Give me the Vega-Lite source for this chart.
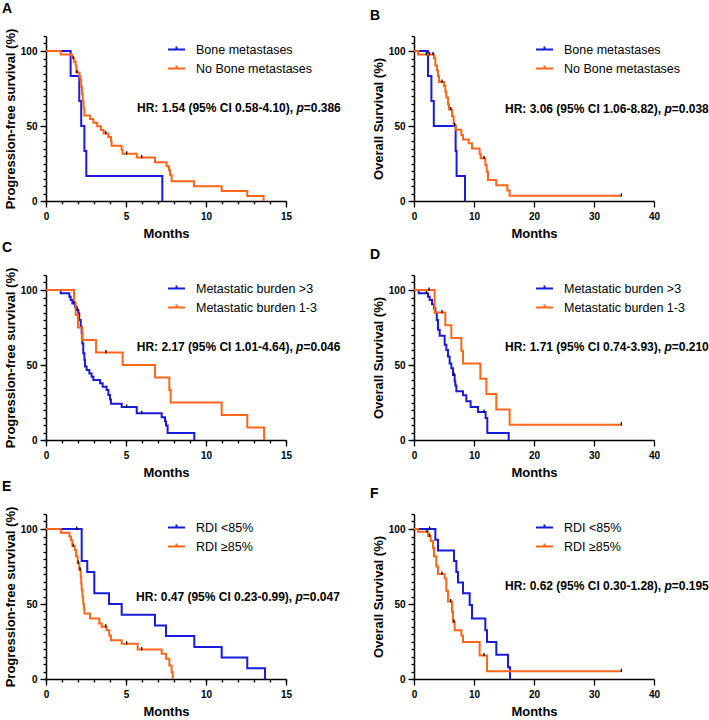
{
"$schema": "https://vega.github.io/schema/vega-lite/v6.json",
"background": "white",
"padding": {"left": 2, "top": 2, "right": 0, "bottom": 0},
"config": {
  "view": {"stroke": null},
  "font": "Liberation Sans",
  "axis": {"domainColor": "black", "domainWidth": 1.5, "tickColor": "black", "tickWidth": 1.3, "labelFont": "Liberation Sans", "labelFontSize": 10, "labelFontWeight": "bold", "labelColor": "black", "titleFont": "Liberation Sans", "titleFontSize": 13, "titleFontWeight": "bold", "titleColor": "black", "grid": false, "labelPadding": 3, "labelFlush": false},
  "axisX": {"titlePadding": 6, "labelPadding": 4},
  "axisY": {"titlePadding": 3},
  "title": {"anchor": "start", "frame": "group", "dx": -44, "fontSize": 14, "fontWeight": "bold", "font": "Liberation Sans", "color": "black", "offset": 12},
  "legend": {"labelFont": "Liberation Sans", "labelFontSize": 12.5, "labelColor": "black", "symbolType": "M-1,0H1M0,0V-0.35", "symbolSize": 289, "symbolStrokeWidth": 2, "labelOffset": 10, "rowPadding": 3}
},
"datasets": {
"hr": [
 {"p": "A", "main": "HR: 1.54 (95% CI 0.58-4.10),", "pv": "=0.386"},
 {"p": "B", "main": "HR: 3.06 (95% CI 1.06-8.82),", "pv": "=0.038"},
 {"p": "C", "main": "HR: 2.17 (95% CI 1.01-4.64),", "pv": "=0.046"},
 {"p": "D", "main": "HR: 1.71 (95% CI 0.74-3.93),", "pv": "=0.210"},
 {"p": "E", "main": "HR: 0.47 (95% CI 0.23-0.99),", "pv": "=0.047"},
 {"p": "F", "main": "HR: 0.62 (95% CI 0.30-1.28),", "pv": "=0.195"}
],
"km": [
 {"p":"A","g":"Bone metastases","t":0,"s":100},
 {"p":"A","g":"Bone metastases","t":1.54,"s":83.3},
 {"p":"A","g":"Bone metastases","t":2.08,"s":66.7},
 {"p":"A","g":"Bone metastases","t":2.2,"s":50},
 {"p":"A","g":"Bone metastases","t":2.4,"s":33.3},
 {"p":"A","g":"Bone metastases","t":2.52,"s":16.7},
 {"p":"A","g":"Bone metastases","t":7.27,"s":0},
 {"p":"A","g":"No Bone metastases","t":0,"s":100},
 {"p":"A","g":"No Bone metastases","t":0.92,"s":97.6},
 {"p":"A","g":"No Bone metastases","t":1.62,"s":95.2},
 {"p":"A","g":"No Bone metastases","t":1.71,"s":95.2,"c":1},
 {"p":"A","g":"No Bone metastases","t":1.75,"s":92.8},
 {"p":"A","g":"No Bone metastases","t":1.85,"s":90.4},
 {"p":"A","g":"No Bone metastases","t":1.9,"s":85.6},
 {"p":"A","g":"No Bone metastases","t":1.94,"s":85.6,"c":1},
 {"p":"A","g":"No Bone metastases","t":2.1,"s":83.2},
 {"p":"A","g":"No Bone metastases","t":2.15,"s":80.8},
 {"p":"A","g":"No Bone metastases","t":2.2,"s":76},
 {"p":"A","g":"No Bone metastases","t":2.25,"s":71.2},
 {"p":"A","g":"No Bone metastases","t":2.3,"s":66.4},
 {"p":"A","g":"No Bone metastases","t":2.35,"s":61.6},
 {"p":"A","g":"No Bone metastases","t":2.4,"s":57},
 {"p":"A","g":"No Bone metastases","t":2.75,"s":54.6},
 {"p":"A","g":"No Bone metastases","t":2.96,"s":52.2},
 {"p":"A","g":"No Bone metastases","t":3.2,"s":49.8},
 {"p":"A","g":"No Bone metastases","t":3.44,"s":47.4},
 {"p":"A","g":"No Bone metastases","t":3.6,"s":45},
 {"p":"A","g":"No Bone metastases","t":3.73,"s":45,"c":1},
 {"p":"A","g":"No Bone metastases","t":3.9,"s":42.6},
 {"p":"A","g":"No Bone metastases","t":4.06,"s":39.7},
 {"p":"A","g":"No Bone metastases","t":4.1,"s":36.8},
 {"p":"A","g":"No Bone metastases","t":4.73,"s":34.2},
 {"p":"A","g":"No Bone metastases","t":4.79,"s":31.5},
 {"p":"A","g":"No Bone metastases","t":5.04,"s":31.5,"c":1},
 {"p":"A","g":"No Bone metastases","t":5.67,"s":29},
 {"p":"A","g":"No Bone metastases","t":5.98,"s":29,"c":1},
 {"p":"A","g":"No Bone metastases","t":6.81,"s":25.8},
 {"p":"A","g":"No Bone metastases","t":7.54,"s":23.2},
 {"p":"A","g":"No Bone metastases","t":7.69,"s":20.5},
 {"p":"A","g":"No Bone metastases","t":7.75,"s":17.5},
 {"p":"A","g":"No Bone metastases","t":7.85,"s":13.2},
 {"p":"A","g":"No Bone metastases","t":9.25,"s":9.9},
 {"p":"A","g":"No Bone metastases","t":10.98,"s":6.6},
 {"p":"A","g":"No Bone metastases","t":12.58,"s":3.3},
 {"p":"A","g":"No Bone metastases","t":13.6,"s":0},

 {"p":"B","g":"Bone metastases","t":0,"s":100},
 {"p":"B","g":"Bone metastases","t":2.33,"s":83.3},
 {"p":"B","g":"Bone metastases","t":2.9,"s":66.7},
 {"p":"B","g":"Bone metastases","t":3.3,"s":50},
 {"p":"B","g":"Bone metastases","t":6.94,"s":33.3},
 {"p":"B","g":"Bone metastases","t":7.1,"s":16.7},
 {"p":"B","g":"Bone metastases","t":8.5,"s":0},
 {"p":"B","g":"No Bone metastases","t":0,"s":100},
 {"p":"B","g":"No Bone metastases","t":0.67,"s":97.6},
 {"p":"B","g":"No Bone metastases","t":2.06,"s":97.6,"c":1},
 {"p":"B","g":"No Bone metastases","t":2.6,"s":97.6,"c":1},
 {"p":"B","g":"No Bone metastases","t":3.17,"s":97.6,"c":1},
 {"p":"B","g":"No Bone metastases","t":3.33,"s":95.2},
 {"p":"B","g":"No Bone metastases","t":3.56,"s":90.4},
 {"p":"B","g":"No Bone metastases","t":3.83,"s":87.2},
 {"p":"B","g":"No Bone metastases","t":4.0,"s":83.4},
 {"p":"B","g":"No Bone metastases","t":4.17,"s":79.3},
 {"p":"B","g":"No Bone metastases","t":4.67,"s":79.3,"c":1},
 {"p":"B","g":"No Bone metastases","t":5.0,"s":76.7},
 {"p":"B","g":"No Bone metastases","t":5.22,"s":73},
 {"p":"B","g":"No Bone metastases","t":5.39,"s":69},
 {"p":"B","g":"No Bone metastases","t":5.67,"s":64.5},
 {"p":"B","g":"No Bone metastases","t":5.83,"s":61},
 {"p":"B","g":"No Bone metastases","t":6.11,"s":61,"c":1},
 {"p":"B","g":"No Bone metastases","t":6.33,"s":56.5},
 {"p":"B","g":"No Bone metastases","t":6.61,"s":50.5},
 {"p":"B","g":"No Bone metastases","t":6.78,"s":50.5,"c":1},
 {"p":"B","g":"No Bone metastases","t":6.94,"s":47.5},
 {"p":"B","g":"No Bone metastases","t":7.89,"s":44},
 {"p":"B","g":"No Bone metastases","t":8.17,"s":41},
 {"p":"B","g":"No Bone metastases","t":9.11,"s":38.5},
 {"p":"B","g":"No Bone metastases","t":9.67,"s":35},
 {"p":"B","g":"No Bone metastases","t":10.94,"s":31.5},
 {"p":"B","g":"No Bone metastases","t":11.11,"s":28.5},
 {"p":"B","g":"No Bone metastases","t":11.67,"s":28.5,"c":1},
 {"p":"B","g":"No Bone metastases","t":11.89,"s":24},
 {"p":"B","g":"No Bone metastases","t":12.11,"s":19.5},
 {"p":"B","g":"No Bone metastases","t":12.33,"s":14},
 {"p":"B","g":"No Bone metastases","t":13.72,"s":10.5},
 {"p":"B","g":"No Bone metastases","t":15.56,"s":7},
 {"p":"B","g":"No Bone metastases","t":15.94,"s":3.5},
 {"p":"B","g":"No Bone metastases","t":34.56,"s":3.5,"c":1},

 {"p":"C","g":"Metastatic burden >3","t":0,"s":100},
 {"p":"C","g":"Metastatic burden >3","t":0.92,"s":97.8},
 {"p":"C","g":"Metastatic burden >3","t":1.46,"s":95.5},
 {"p":"C","g":"Metastatic burden >3","t":1.54,"s":93.3},
 {"p":"C","g":"Metastatic burden >3","t":1.65,"s":91},
 {"p":"C","g":"Metastatic burden >3","t":1.75,"s":91,"c":1},
 {"p":"C","g":"Metastatic burden >3","t":1.81,"s":88.8},
 {"p":"C","g":"Metastatic burden >3","t":1.92,"s":86.6},
 {"p":"C","g":"Metastatic burden >3","t":1.96,"s":86.6,"c":1},
 {"p":"C","g":"Metastatic burden >3","t":2.02,"s":84.4},
 {"p":"C","g":"Metastatic burden >3","t":2.08,"s":80},
 {"p":"C","g":"Metastatic burden >3","t":2.17,"s":75.6},
 {"p":"C","g":"Metastatic burden >3","t":2.23,"s":71.2},
 {"p":"C","g":"Metastatic burden >3","t":2.27,"s":64.4},
 {"p":"C","g":"Metastatic burden >3","t":2.33,"s":57.8},
 {"p":"C","g":"Metastatic burden >3","t":2.4,"s":53.3},
 {"p":"C","g":"Metastatic burden >3","t":2.44,"s":49},
 {"p":"C","g":"Metastatic burden >3","t":2.54,"s":46.7},
 {"p":"C","g":"Metastatic burden >3","t":2.71,"s":44.4},
 {"p":"C","g":"Metastatic burden >3","t":2.85,"s":42.2},
 {"p":"C","g":"Metastatic burden >3","t":2.96,"s":40},
 {"p":"C","g":"Metastatic burden >3","t":3.38,"s":37.8},
 {"p":"C","g":"Metastatic burden >3","t":3.54,"s":35.5},
 {"p":"C","g":"Metastatic burden >3","t":3.79,"s":33.3},
 {"p":"C","g":"Metastatic burden >3","t":3.9,"s":30},
 {"p":"C","g":"Metastatic burden >3","t":4.0,"s":27},
 {"p":"C","g":"Metastatic burden >3","t":4.06,"s":24.2},
 {"p":"C","g":"Metastatic burden >3","t":4.73,"s":22},
 {"p":"C","g":"Metastatic burden >3","t":5.04,"s":22,"c":1},
 {"p":"C","g":"Metastatic burden >3","t":5.67,"s":17.8},
 {"p":"C","g":"Metastatic burden >3","t":5.98,"s":17.8,"c":1},
 {"p":"C","g":"Metastatic burden >3","t":7.23,"s":15.2},
 {"p":"C","g":"Metastatic burden >3","t":7.44,"s":12.5},
 {"p":"C","g":"Metastatic burden >3","t":7.5,"s":9.6},
 {"p":"C","g":"Metastatic burden >3","t":7.6,"s":4.7},
 {"p":"C","g":"Metastatic burden >3","t":9.27,"s":0},
 {"p":"C","g":"Metastatic burden 1-3","t":0,"s":100},
 {"p":"C","g":"Metastatic burden 1-3","t":1.75,"s":91.7},
 {"p":"C","g":"Metastatic burden 1-3","t":1.85,"s":83.3},
 {"p":"C","g":"Metastatic burden 1-3","t":2.0,"s":75},
 {"p":"C","g":"Metastatic burden 1-3","t":2.27,"s":66.7},
 {"p":"C","g":"Metastatic burden 1-3","t":3.13,"s":58.3},
 {"p":"C","g":"Metastatic burden 1-3","t":3.75,"s":58.3,"c":1},
 {"p":"C","g":"Metastatic burden 1-3","t":4.79,"s":50},
 {"p":"C","g":"Metastatic burden 1-3","t":6.81,"s":41.7},
 {"p":"C","g":"Metastatic burden 1-3","t":7.71,"s":33.3},
 {"p":"C","g":"Metastatic burden 1-3","t":7.79,"s":25},
 {"p":"C","g":"Metastatic burden 1-3","t":10.98,"s":16.7},
 {"p":"C","g":"Metastatic burden 1-3","t":12.58,"s":8.3},
 {"p":"C","g":"Metastatic burden 1-3","t":13.63,"s":0},

 {"p":"D","g":"Metastatic burden >3","t":0,"s":100},
 {"p":"D","g":"Metastatic burden >3","t":0.78,"s":97.8},
 {"p":"D","g":"Metastatic burden >3","t":2.06,"s":97.8,"c":1},
 {"p":"D","g":"Metastatic burden >3","t":2.33,"s":95.5},
 {"p":"D","g":"Metastatic burden >3","t":2.61,"s":93.3},
 {"p":"D","g":"Metastatic burden >3","t":3.0,"s":90.5},
 {"p":"D","g":"Metastatic burden >3","t":3.33,"s":88},
 {"p":"D","g":"Metastatic burden >3","t":3.56,"s":84.8},
 {"p":"D","g":"Metastatic burden >3","t":3.8,"s":80},
 {"p":"D","g":"Metastatic burden >3","t":4.0,"s":73.5},
 {"p":"D","g":"Metastatic burden >3","t":4.28,"s":69.5},
 {"p":"D","g":"Metastatic burden >3","t":5.11,"s":63.5},
 {"p":"D","g":"Metastatic burden >3","t":5.39,"s":60},
 {"p":"D","g":"Metastatic burden >3","t":5.67,"s":55.6},
 {"p":"D","g":"Metastatic burden >3","t":5.94,"s":51},
 {"p":"D","g":"Metastatic burden >3","t":6.22,"s":47.8},
 {"p":"D","g":"Metastatic burden >3","t":6.5,"s":43.3},
 {"p":"D","g":"Metastatic burden >3","t":6.67,"s":43.3,"c":1},
 {"p":"D","g":"Metastatic burden >3","t":6.78,"s":39},
 {"p":"D","g":"Metastatic burden >3","t":6.89,"s":36.3},
 {"p":"D","g":"Metastatic burden >3","t":7.06,"s":32.5},
 {"p":"D","g":"Metastatic burden >3","t":8.17,"s":29.8},
 {"p":"D","g":"Metastatic burden >3","t":8.72,"s":25.8},
 {"p":"D","g":"Metastatic burden >3","t":9.44,"s":22},
 {"p":"D","g":"Metastatic burden >3","t":10.67,"s":18.6},
 {"p":"D","g":"Metastatic burden >3","t":11.67,"s":18.6,"c":1},
 {"p":"D","g":"Metastatic burden >3","t":11.94,"s":14.6},
 {"p":"D","g":"Metastatic burden >3","t":12.22,"s":4.7},
 {"p":"D","g":"Metastatic burden >3","t":15.78,"s":0},
 {"p":"D","g":"Metastatic burden 1-3","t":0,"s":100},
 {"p":"D","g":"Metastatic burden 1-3","t":2.5,"s":100,"c":1},
 {"p":"D","g":"Metastatic burden 1-3","t":3.44,"s":85},
 {"p":"D","g":"Metastatic burden 1-3","t":4.67,"s":85,"c":1},
 {"p":"D","g":"Metastatic burden 1-3","t":5.22,"s":76.5},
 {"p":"D","g":"Metastatic burden 1-3","t":6.22,"s":68},
 {"p":"D","g":"Metastatic burden 1-3","t":7.89,"s":59.5},
 {"p":"D","g":"Metastatic burden 1-3","t":8.17,"s":51},
 {"p":"D","g":"Metastatic burden 1-3","t":11.06,"s":40.8},
 {"p":"D","g":"Metastatic burden 1-3","t":12.06,"s":30.6},
 {"p":"D","g":"Metastatic burden 1-3","t":13.72,"s":20.4},
 {"p":"D","g":"Metastatic burden 1-3","t":15.94,"s":10.2},
 {"p":"D","g":"Metastatic burden 1-3","t":34.56,"s":10.2,"c":1},

 {"p":"E","g":"RDI <85%","t":0,"s":100},
 {"p":"E","g":"RDI <85%","t":1.92,"s":100,"c":1},
 {"p":"E","g":"RDI <85%","t":2.23,"s":78.6},
 {"p":"E","g":"RDI <85%","t":2.58,"s":71.4},
 {"p":"E","g":"RDI <85%","t":3.02,"s":57.1},
 {"p":"E","g":"RDI <85%","t":3.94,"s":50},
 {"p":"E","g":"RDI <85%","t":4.73,"s":42.9},
 {"p":"E","g":"RDI <85%","t":6.81,"s":35.7},
 {"p":"E","g":"RDI <85%","t":7.5,"s":28.6},
 {"p":"E","g":"RDI <85%","t":9.27,"s":21.4},
 {"p":"E","g":"RDI <85%","t":10.98,"s":14.3},
 {"p":"E","g":"RDI <85%","t":12.58,"s":7.1},
 {"p":"E","g":"RDI <85%","t":13.69,"s":0},
 {"p":"E","g":"RDI ≥85%","t":0,"s":100},
 {"p":"E","g":"RDI ≥85%","t":0.92,"s":97.5},
 {"p":"E","g":"RDI ≥85%","t":1.46,"s":95},
 {"p":"E","g":"RDI ≥85%","t":1.56,"s":92.5},
 {"p":"E","g":"RDI ≥85%","t":1.65,"s":88.6},
 {"p":"E","g":"RDI ≥85%","t":1.71,"s":88.6,"c":1},
 {"p":"E","g":"RDI ≥85%","t":1.8,"s":86},
 {"p":"E","g":"RDI ≥85%","t":1.88,"s":81.8},
 {"p":"E","g":"RDI ≥85%","t":1.98,"s":77.3},
 {"p":"E","g":"RDI ≥85%","t":2.02,"s":77.3,"c":1},
 {"p":"E","g":"RDI ≥85%","t":2.08,"s":72.8},
 {"p":"E","g":"RDI ≥85%","t":2.13,"s":72.8,"c":1},
 {"p":"E","g":"RDI ≥85%","t":2.17,"s":68.2},
 {"p":"E","g":"RDI ≥85%","t":2.2,"s":63.6},
 {"p":"E","g":"RDI ≥85%","t":2.23,"s":59.1},
 {"p":"E","g":"RDI ≥85%","t":2.28,"s":54.5},
 {"p":"E","g":"RDI ≥85%","t":2.33,"s":50},
 {"p":"E","g":"RDI ≥85%","t":2.37,"s":47},
 {"p":"E","g":"RDI ≥85%","t":2.4,"s":43.7},
 {"p":"E","g":"RDI ≥85%","t":2.75,"s":40.4},
 {"p":"E","g":"RDI ≥85%","t":3.33,"s":37},
 {"p":"E","g":"RDI ≥85%","t":3.48,"s":34.8},
 {"p":"E","g":"RDI ≥85%","t":3.73,"s":34.8,"c":1},
 {"p":"E","g":"RDI ≥85%","t":3.79,"s":32.5},
 {"p":"E","g":"RDI ≥85%","t":3.95,"s":29},
 {"p":"E","g":"RDI ≥85%","t":4.06,"s":25.8},
 {"p":"E","g":"RDI ≥85%","t":4.73,"s":23.5},
 {"p":"E","g":"RDI ≥85%","t":5.04,"s":23.5,"c":1},
 {"p":"E","g":"RDI ≥85%","t":5.73,"s":19.7},
 {"p":"E","g":"RDI ≥85%","t":5.98,"s":19.7,"c":1},
 {"p":"E","g":"RDI ≥85%","t":7.23,"s":16.8},
 {"p":"E","g":"RDI ≥85%","t":7.5,"s":13.5},
 {"p":"E","g":"RDI ≥85%","t":7.71,"s":9},
 {"p":"E","g":"RDI ≥85%","t":7.85,"s":4.5},
 {"p":"E","g":"RDI ≥85%","t":7.92,"s":0},

 {"p":"F","g":"RDI <85%","t":0,"s":100},
 {"p":"F","g":"RDI <85%","t":2.61,"s":100,"c":1},
 {"p":"F","g":"RDI <85%","t":3.56,"s":92.9},
 {"p":"F","g":"RDI <85%","t":4.0,"s":85.7},
 {"p":"F","g":"RDI <85%","t":6.67,"s":78.6},
 {"p":"F","g":"RDI <85%","t":7.06,"s":71.4},
 {"p":"F","g":"RDI <85%","t":7.33,"s":64.3},
 {"p":"F","g":"RDI <85%","t":8.17,"s":57.1},
 {"p":"F","g":"RDI <85%","t":9.28,"s":49.3},
 {"p":"F","g":"RDI <85%","t":9.67,"s":40.4},
 {"p":"F","g":"RDI <85%","t":11.89,"s":32.5},
 {"p":"F","g":"RDI <85%","t":12.17,"s":24.7},
 {"p":"F","g":"RDI <85%","t":13.72,"s":16.1},
 {"p":"F","g":"RDI <85%","t":15.67,"s":7.8},
 {"p":"F","g":"RDI <85%","t":16.0,"s":0},
 {"p":"F","g":"RDI ≥85%","t":0,"s":100},
 {"p":"F","g":"RDI ≥85%","t":0.67,"s":98.2},
 {"p":"F","g":"RDI ≥85%","t":2.17,"s":98.2,"c":1},
 {"p":"F","g":"RDI ≥85%","t":2.33,"s":95.3},
 {"p":"F","g":"RDI ≥85%","t":2.61,"s":95.3,"c":1},
 {"p":"F","g":"RDI ≥85%","t":2.78,"s":92},
 {"p":"F","g":"RDI ≥85%","t":3.17,"s":87.4},
 {"p":"F","g":"RDI ≥85%","t":3.33,"s":81.8},
 {"p":"F","g":"RDI ≥85%","t":3.72,"s":75},
 {"p":"F","g":"RDI ≥85%","t":4.0,"s":70},
 {"p":"F","g":"RDI ≥85%","t":4.67,"s":70,"c":1},
 {"p":"F","g":"RDI ≥85%","t":5.11,"s":67},
 {"p":"F","g":"RDI ≥85%","t":5.39,"s":58.7},
 {"p":"F","g":"RDI ≥85%","t":5.67,"s":51.6},
 {"p":"F","g":"RDI ≥85%","t":6.11,"s":51.6,"c":1},
 {"p":"F","g":"RDI ≥85%","t":6.33,"s":44.8},
 {"p":"F","g":"RDI ≥85%","t":6.5,"s":38},
 {"p":"F","g":"RDI ≥85%","t":6.67,"s":38,"c":1},
 {"p":"F","g":"RDI ≥85%","t":6.78,"s":32.5},
 {"p":"F","g":"RDI ≥85%","t":7.89,"s":29},
 {"p":"F","g":"RDI ≥85%","t":8.17,"s":24.7},
 {"p":"F","g":"RDI ≥85%","t":10.94,"s":15.7},
 {"p":"F","g":"RDI ≥85%","t":11.67,"s":15.7,"c":1},
 {"p":"F","g":"RDI ≥85%","t":12.17,"s":5.2},
 {"p":"F","g":"RDI ≥85%","t":34.56,"s":5.2,"c":1}
]
},
"columns": 2,
"spacing": {"row": 74, "column": 128},
"bounds": "flush",
"resolve": {"scale": {"color": "independent"}, "legend": {"color": "independent"}},
"concat": [
 {"width": 240, "height": 165, "title": {"text": "A"},
  "resolve": {"axis": {"x": "independent", "y": "independent"}},
  "layer": [
   {"data": {"name": "km"}, "transform": [{"filter": "datum.p === 'A'"}],
    "mark": {"type": "line", "interpolate": "step-after", "strokeWidth": 2},
    "encoding": {
     "x": {"field": "t", "type": "quantitative", "scale": {"domain": [0, 15], "nice": false, "zero": false}, "axis": {"title": "Months", "values": [0,5,10,15], "tickSize": 6}},
     "y": {"field": "s", "type": "quantitative", "scale": {"domain": [0, 110], "nice": false}, "axis": {"title": "Progression-free survival (%)", "values": [0,50,100], "tickSize": 6}},
     "color": {"field": "g", "type": "nominal", "scale": {"domain": ["Bone metastases", "No Bone metastases"], "range": ["#1a1adb", "#ff6619"]}, "legend": {"title": null, "orient": "none", "legendX": 121, "legendY": 4}},
     "order": {"field": "t"}}},
   {"data": {"name": "km"}, "transform": [{"filter": "datum.p === 'A' && datum.c === 1"}],
    "mark": {"type": "point", "shape": "M0,0.3V-1", "size": 25, "stroke": "black", "strokeWidth": 1.3, "filled": false, "opacity": 1},
    "encoding": {
     "x": {"field": "t", "type": "quantitative", "axis": {"orient": "bottom", "title": null, "labels": false, "domain": false, "tickSize": 3, "values": [0,1,2,3,4,5,6,7,8,9,10,11,12,13,14,15]}},
     "y": {"field": "s", "type": "quantitative", "axis": {"orient": "left", "title": null, "labels": false, "domain": false, "tickSize": 3, "values": [0,5,10,15,20,25,30,35,40,45,50,55,60,65,70,75,80,85,90,95,100,105,110]}}}},
   {"data": {"name": "hr"}, "transform": [{"filter": "datum.p === 'A'"}],
    "mark": {"type": "text", "align": "left", "baseline": "middle", "fontWeight": "bold", "fontSize": 12, "color": "black"},
    "encoding": {"x": {"datum": 5.69, "axis": null}, "y": {"datum": 62, "axis": null}, "text": {"field": "main"}}},
   {"data": {"name": "hr"}, "transform": [{"filter": "datum.p === 'A'"}],
    "mark": {"type": "text", "align": "left", "baseline": "middle", "fontWeight": "bold", "fontStyle": "italic", "fontSize": 12, "color": "black", "text": "p", "dx": 159.4},
    "encoding": {"x": {"datum": 5.69, "axis": null}, "y": {"datum": 62, "axis": null}}},
   {"data": {"name": "hr"}, "transform": [{"filter": "datum.p === 'A'"}],
    "mark": {"type": "text", "align": "left", "baseline": "middle", "fontWeight": "bold", "fontSize": 12, "color": "black", "dx": 166.7},
    "encoding": {"x": {"datum": 5.69, "axis": null}, "y": {"datum": 62, "axis": null}, "text": {"field": "pv"}}}
  ]},
 {"width": 240, "height": 165, "title": {"text": "B"},
  "resolve": {"axis": {"x": "independent", "y": "independent"}},
  "layer": [
   {"data": {"name": "km"}, "transform": [{"filter": "datum.p === 'B'"}],
    "mark": {"type": "line", "interpolate": "step-after", "strokeWidth": 2},
    "encoding": {
     "x": {"field": "t", "type": "quantitative", "scale": {"domain": [0, 40], "nice": false, "zero": false}, "axis": {"title": "Months", "values": [0,10,20,30,40], "tickSize": 6}},
     "y": {"field": "s", "type": "quantitative", "scale": {"domain": [0, 110], "nice": false}, "axis": {"title": "Overall Survival (%)", "values": [0,50,100], "tickSize": 6}},
     "color": {"field": "g", "type": "nominal", "scale": {"domain": ["Bone metastases", "No Bone metastases"], "range": ["#1a1adb", "#ff6619"]}, "legend": {"title": null, "orient": "none", "legendX": 121, "legendY": 4}},
     "order": {"field": "t"}}},
   {"data": {"name": "km"}, "transform": [{"filter": "datum.p === 'B' && datum.c === 1"}],
    "mark": {"type": "point", "shape": "M0,0.3V-1", "size": 25, "stroke": "black", "strokeWidth": 1.3, "filled": false, "opacity": 1},
    "encoding": {
     "x": {"field": "t", "type": "quantitative", "axis": null},
     "y": {"field": "s", "type": "quantitative", "axis": {"orient": "left", "title": null, "labels": false, "domain": false, "tickSize": 3, "values": [0,5,10,15,20,25,30,35,40,45,50,55,60,65,70,75,80,85,90,95,100,105,110]}}}},
   {"data": {"name": "hr"}, "transform": [{"filter": "datum.p === 'B'"}],
    "mark": {"type": "text", "align": "left", "baseline": "middle", "fontWeight": "bold", "fontSize": 12, "color": "black"},
    "encoding": {"x": {"datum": 15.17, "axis": null}, "y": {"datum": 61.5, "axis": null}, "text": {"field": "main"}}},
   {"data": {"name": "hr"}, "transform": [{"filter": "datum.p === 'B'"}],
    "mark": {"type": "text", "align": "left", "baseline": "middle", "fontWeight": "bold", "fontStyle": "italic", "fontSize": 12, "color": "black", "text": "p", "dx": 159.4},
    "encoding": {"x": {"datum": 15.17, "axis": null}, "y": {"datum": 61.5, "axis": null}}},
   {"data": {"name": "hr"}, "transform": [{"filter": "datum.p === 'B'"}],
    "mark": {"type": "text", "align": "left", "baseline": "middle", "fontWeight": "bold", "fontSize": 12, "color": "black", "dx": 166.7},
    "encoding": {"x": {"datum": 15.17, "axis": null}, "y": {"datum": 61.5, "axis": null}, "text": {"field": "pv"}}}
  ]},
 {"width": 240, "height": 165, "title": {"text": "C"},
  "resolve": {"axis": {"x": "independent", "y": "independent"}},
  "layer": [
   {"data": {"name": "km"}, "transform": [{"filter": "datum.p === 'C'"}],
    "mark": {"type": "line", "interpolate": "step-after", "strokeWidth": 2},
    "encoding": {
     "x": {"field": "t", "type": "quantitative", "scale": {"domain": [0, 15], "nice": false, "zero": false}, "axis": {"title": "Months", "values": [0,5,10,15], "tickSize": 6}},
     "y": {"field": "s", "type": "quantitative", "scale": {"domain": [0, 110], "nice": false}, "axis": {"title": "Progression-free survival (%)", "values": [0,50,100], "tickSize": 6}},
     "color": {"field": "g", "type": "nominal", "scale": {"domain": ["Metastatic burden >3", "Metastatic burden 1-3"], "range": ["#1a1adb", "#ff6619"]}, "legend": {"title": null, "orient": "none", "legendX": 121, "legendY": 4}},
     "order": {"field": "t"}}},
   {"data": {"name": "km"}, "transform": [{"filter": "datum.p === 'C' && datum.c === 1"}],
    "mark": {"type": "point", "shape": "M0,0.3V-1", "size": 25, "stroke": "black", "strokeWidth": 1.3, "filled": false, "opacity": 1},
    "encoding": {
     "x": {"field": "t", "type": "quantitative", "axis": {"orient": "bottom", "title": null, "labels": false, "domain": false, "tickSize": 3, "values": [0,1,2,3,4,5,6,7,8,9,10,11,12,13,14,15]}},
     "y": {"field": "s", "type": "quantitative", "axis": {"orient": "left", "title": null, "labels": false, "domain": false, "tickSize": 3, "values": [0,5,10,15,20,25,30,35,40,45,50,55,60,65,70,75,80,85,90,95,100,105,110]}}}},
   {"data": {"name": "hr"}, "transform": [{"filter": "datum.p === 'C'"}],
    "mark": {"type": "text", "align": "left", "baseline": "middle", "fontWeight": "bold", "fontSize": 12, "color": "black"},
    "encoding": {"x": {"datum": 5.67, "axis": null}, "y": {"datum": 61.8, "axis": null}, "text": {"field": "main"}}},
   {"data": {"name": "hr"}, "transform": [{"filter": "datum.p === 'C'"}],
    "mark": {"type": "text", "align": "left", "baseline": "middle", "fontWeight": "bold", "fontStyle": "italic", "fontSize": 12, "color": "black", "text": "p", "dx": 159.4},
    "encoding": {"x": {"datum": 5.67, "axis": null}, "y": {"datum": 61.8, "axis": null}}},
   {"data": {"name": "hr"}, "transform": [{"filter": "datum.p === 'C'"}],
    "mark": {"type": "text", "align": "left", "baseline": "middle", "fontWeight": "bold", "fontSize": 12, "color": "black", "dx": 166.7},
    "encoding": {"x": {"datum": 5.67, "axis": null}, "y": {"datum": 61.8, "axis": null}, "text": {"field": "pv"}}}
  ]},
 {"width": 240, "height": 165, "title": {"text": "D"},
  "resolve": {"axis": {"x": "independent", "y": "independent"}},
  "layer": [
   {"data": {"name": "km"}, "transform": [{"filter": "datum.p === 'D'"}],
    "mark": {"type": "line", "interpolate": "step-after", "strokeWidth": 2},
    "encoding": {
     "x": {"field": "t", "type": "quantitative", "scale": {"domain": [0, 40], "nice": false, "zero": false}, "axis": {"title": "Months", "values": [0,10,20,30,40], "tickSize": 6}},
     "y": {"field": "s", "type": "quantitative", "scale": {"domain": [0, 110], "nice": false}, "axis": {"title": "Overall Survival (%)", "values": [0,50,100], "tickSize": 6}},
     "color": {"field": "g", "type": "nominal", "scale": {"domain": ["Metastatic burden >3", "Metastatic burden 1-3"], "range": ["#1a1adb", "#ff6619"]}, "legend": {"title": null, "orient": "none", "legendX": 121, "legendY": 4}},
     "order": {"field": "t"}}},
   {"data": {"name": "km"}, "transform": [{"filter": "datum.p === 'D' && datum.c === 1"}],
    "mark": {"type": "point", "shape": "M0,0.3V-1", "size": 25, "stroke": "black", "strokeWidth": 1.3, "filled": false, "opacity": 1},
    "encoding": {
     "x": {"field": "t", "type": "quantitative", "axis": null},
     "y": {"field": "s", "type": "quantitative", "axis": {"orient": "left", "title": null, "labels": false, "domain": false, "tickSize": 3, "values": [0,5,10,15,20,25,30,35,40,45,50,55,60,65,70,75,80,85,90,95,100,105,110]}}}},
   {"data": {"name": "hr"}, "transform": [{"filter": "datum.p === 'D'"}],
    "mark": {"type": "text", "align": "left", "baseline": "middle", "fontWeight": "bold", "fontSize": 12, "color": "black"},
    "encoding": {"x": {"datum": 15.17, "axis": null}, "y": {"datum": 61.7, "axis": null}, "text": {"field": "main"}}},
   {"data": {"name": "hr"}, "transform": [{"filter": "datum.p === 'D'"}],
    "mark": {"type": "text", "align": "left", "baseline": "middle", "fontWeight": "bold", "fontStyle": "italic", "fontSize": 12, "color": "black", "text": "p", "dx": 159.4},
    "encoding": {"x": {"datum": 15.17, "axis": null}, "y": {"datum": 61.7, "axis": null}}},
   {"data": {"name": "hr"}, "transform": [{"filter": "datum.p === 'D'"}],
    "mark": {"type": "text", "align": "left", "baseline": "middle", "fontWeight": "bold", "fontSize": 12, "color": "black", "dx": 166.7},
    "encoding": {"x": {"datum": 15.17, "axis": null}, "y": {"datum": 61.7, "axis": null}, "text": {"field": "pv"}}}
  ]},
 {"width": 240, "height": 165, "title": {"text": "E"},
  "resolve": {"axis": {"x": "independent", "y": "independent"}},
  "layer": [
   {"data": {"name": "km"}, "transform": [{"filter": "datum.p === 'E'"}],
    "mark": {"type": "line", "interpolate": "step-after", "strokeWidth": 2},
    "encoding": {
     "x": {"field": "t", "type": "quantitative", "scale": {"domain": [0, 15], "nice": false, "zero": false}, "axis": {"title": "Months", "values": [0,5,10,15], "tickSize": 6}},
     "y": {"field": "s", "type": "quantitative", "scale": {"domain": [0, 110], "nice": false}, "axis": {"title": "Progression-free survival (%)", "values": [0,50,100], "tickSize": 6}},
     "color": {"field": "g", "type": "nominal", "scale": {"domain": ["RDI <85%", "RDI ≥85%"], "range": ["#1a1adb", "#ff6619"]}, "legend": {"title": null, "orient": "none", "legendX": 121, "legendY": 4}},
     "order": {"field": "t"}}},
   {"data": {"name": "km"}, "transform": [{"filter": "datum.p === 'E' && datum.c === 1"}],
    "mark": {"type": "point", "shape": "M0,0.3V-1", "size": 25, "stroke": "black", "strokeWidth": 1.3, "filled": false, "opacity": 1},
    "encoding": {
     "x": {"field": "t", "type": "quantitative", "axis": {"orient": "bottom", "title": null, "labels": false, "domain": false, "tickSize": 3, "values": [0,1,2,3,4,5,6,7,8,9,10,11,12,13,14,15]}},
     "y": {"field": "s", "type": "quantitative", "axis": {"orient": "left", "title": null, "labels": false, "domain": false, "tickSize": 3, "values": [0,5,10,15,20,25,30,35,40,45,50,55,60,65,70,75,80,85,90,95,100,105,110]}}}},
   {"data": {"name": "hr"}, "transform": [{"filter": "datum.p === 'E'"}],
    "mark": {"type": "text", "align": "left", "baseline": "middle", "fontWeight": "bold", "fontSize": 12, "color": "black"},
    "encoding": {"x": {"datum": 5.63, "axis": null}, "y": {"datum": 55, "axis": null}, "text": {"field": "main"}}},
   {"data": {"name": "hr"}, "transform": [{"filter": "datum.p === 'E'"}],
    "mark": {"type": "text", "align": "left", "baseline": "middle", "fontWeight": "bold", "fontStyle": "italic", "fontSize": 12, "color": "black", "text": "p", "dx": 159.4},
    "encoding": {"x": {"datum": 5.63, "axis": null}, "y": {"datum": 55, "axis": null}}},
   {"data": {"name": "hr"}, "transform": [{"filter": "datum.p === 'E'"}],
    "mark": {"type": "text", "align": "left", "baseline": "middle", "fontWeight": "bold", "fontSize": 12, "color": "black", "dx": 166.7},
    "encoding": {"x": {"datum": 5.63, "axis": null}, "y": {"datum": 55, "axis": null}, "text": {"field": "pv"}}}
  ]},
 {"width": 240, "height": 165, "title": {"text": "F"},
  "resolve": {"axis": {"x": "independent", "y": "independent"}},
  "layer": [
   {"data": {"name": "km"}, "transform": [{"filter": "datum.p === 'F'"}],
    "mark": {"type": "line", "interpolate": "step-after", "strokeWidth": 2},
    "encoding": {
     "x": {"field": "t", "type": "quantitative", "scale": {"domain": [0, 40], "nice": false, "zero": false}, "axis": {"title": "Months", "values": [0,10,20,30,40], "tickSize": 6}},
     "y": {"field": "s", "type": "quantitative", "scale": {"domain": [0, 110], "nice": false}, "axis": {"title": "Overall Survival (%)", "values": [0,50,100], "tickSize": 6}},
     "color": {"field": "g", "type": "nominal", "scale": {"domain": ["RDI <85%", "RDI ≥85%"], "range": ["#1a1adb", "#ff6619"]}, "legend": {"title": null, "orient": "none", "legendX": 121, "legendY": 4}},
     "order": {"field": "t"}}},
   {"data": {"name": "km"}, "transform": [{"filter": "datum.p === 'F' && datum.c === 1"}],
    "mark": {"type": "point", "shape": "M0,0.3V-1", "size": 25, "stroke": "black", "strokeWidth": 1.3, "filled": false, "opacity": 1},
    "encoding": {
     "x": {"field": "t", "type": "quantitative", "axis": null},
     "y": {"field": "s", "type": "quantitative", "axis": {"orient": "left", "title": null, "labels": false, "domain": false, "tickSize": 3, "values": [0,5,10,15,20,25,30,35,40,45,50,55,60,65,70,75,80,85,90,95,100,105,110]}}}},
   {"data": {"name": "hr"}, "transform": [{"filter": "datum.p === 'F'"}],
    "mark": {"type": "text", "align": "left", "baseline": "middle", "fontWeight": "bold", "fontSize": 12, "color": "black"},
    "encoding": {"x": {"datum": 15.17, "axis": null}, "y": {"datum": 61.7, "axis": null}, "text": {"field": "main"}}},
   {"data": {"name": "hr"}, "transform": [{"filter": "datum.p === 'F'"}],
    "mark": {"type": "text", "align": "left", "baseline": "middle", "fontWeight": "bold", "fontStyle": "italic", "fontSize": 12, "color": "black", "text": "p", "dx": 159.4},
    "encoding": {"x": {"datum": 15.17, "axis": null}, "y": {"datum": 61.7, "axis": null}}},
   {"data": {"name": "hr"}, "transform": [{"filter": "datum.p === 'F'"}],
    "mark": {"type": "text", "align": "left", "baseline": "middle", "fontWeight": "bold", "fontSize": 12, "color": "black", "dx": 166.7},
    "encoding": {"x": {"datum": 15.17, "axis": null}, "y": {"datum": 61.7, "axis": null}, "text": {"field": "pv"}}}
  ]}
]
}
